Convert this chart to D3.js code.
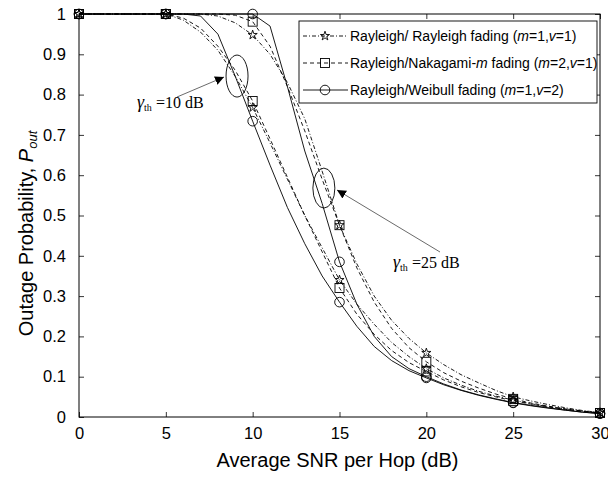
<!DOCTYPE html>
<html>
<head>
<meta charset="utf-8">
<script src="https://cdn.jsdelivr.net/npm/d3@7"></script>
<style>
  body { margin: 0; background: #fff; }
  svg { display: block; }
</style>
</head>
<body>
<script>
// SNR grid of the curves (dB) and the points that carry markers
const snr = [0, 1, 2, 3, 4, 5, 6, 7, 8, 9, 10, 11, 12, 13, 14, 15, 16, 17, 18, 19, 20,
             21, 22, 23, 24, 25, 26, 27, 28, 29, 30];
const markerSnr = [0, 5, 10, 15, 20, 25, 30];
const xTicks = [0, 5, 10, 15, 20, 25, 30];
const yTicks = [0, 0.1, 0.2, 0.3, 0.4, 0.5, 0.6, 0.7, 0.8, 0.9, 1];

// gamma_th = 10 dB
const rayRay10 = [1, 1, 1, 1, 1, 1, 0.985, 0.955, 0.91, 0.845, 0.768, 0.68, 0.59, 0.5, 0.42, 0.34,
                  0.28, 0.23, 0.185, 0.15, 0.12, 0.097, 0.079, 0.064, 0.052, 0.042, 0.033, 0.026, 0.02, 0.015, 0.01];
const rayNak10 = [1, 1, 1, 1, 1, 1, 0.99, 0.965, 0.92, 0.86, 0.784, 0.69, 0.595, 0.5, 0.41, 0.32,
                  0.255, 0.205, 0.165, 0.135, 0.113, 0.092, 0.075, 0.061, 0.05, 0.04, 0.032, 0.025, 0.019, 0.014, 0.01];
const rayWei10 = [1, 1, 1, 1, 1, 1, 1, 0.995, 0.95, 0.845, 0.734, 0.625, 0.52, 0.43, 0.35, 0.285,
                  0.225, 0.175, 0.14, 0.115, 0.097, 0.08, 0.066, 0.054, 0.044, 0.035, 0.028, 0.022, 0.017, 0.012, 0.008];
// gamma_th = 25 dB
const rayRay25 = [1, 1, 1, 1, 1, 1, 1, 1, 0.995, 0.978, 0.948, 0.9, 0.83, 0.74, 0.61, 0.476,
                  0.38, 0.3, 0.24, 0.195, 0.159, 0.13, 0.105, 0.085, 0.066, 0.05, 0.04, 0.031, 0.023, 0.016, 0.011];
const rayNak25 = [1, 1, 1, 1, 1, 1, 1, 1, 1, 0.997, 0.981, 0.92, 0.82, 0.71, 0.59, 0.476,
                  0.37, 0.285, 0.22, 0.172, 0.137, 0.11, 0.089, 0.072, 0.057, 0.045, 0.035, 0.027, 0.02, 0.014, 0.01];
const rayWei25 = [1, 1, 1, 1, 1, 1, 1, 1, 1, 1, 1, 0.97, 0.82, 0.66, 0.53, 0.385,
                  0.28, 0.2, 0.15, 0.12, 0.1, 0.082, 0.067, 0.055, 0.045, 0.036, 0.029, 0.023, 0.017, 0.012, 0.009];

const styles = {
  ray: { dash: '4 2 1 2', marker: 'star' },
  nak: { dash: '4 3', marker: 'square' },
  wei: { dash: null, marker: 'circle' },
};

const curves = [
  { kind: 'ray', values: rayRay10 },
  { kind: 'nak', values: rayNak10 },
  { kind: 'wei', values: rayWei10 },
  { kind: 'ray', values: rayRay25 },
  { kind: 'nak', values: rayNak25 },
  { kind: 'wei', values: rayWei25 },
];

const legendItems = [
  { kind: 'ray', parts: ['Rayleigh/ Rayleigh fading (', ['m'], '=1,', ['v'], '=1)'] },
  { kind: 'nak', parts: ['Rayleigh/Nakagami-', ['m'], ' fading (', ['m'], '=2,', ['v'], '=1)'] },
  { kind: 'wei', parts: ['Rayleigh/Weibull fading (', ['m'], '=1,', ['v'], '=2)'] },
];

const width = 608, height = 478;
const margin = { top: 14, right: 8, bottom: 61, left: 79 };
const innerW = width - margin.left - margin.right;
const innerH = height - margin.top - margin.bottom;

const x = d3.scaleLinear().domain([0, 30]).range([0, innerW]);
const y = d3.scaleLinear().domain([0, 1]).range([innerH, 0]);

const svg = d3.select('body').append('svg')
  .attr('width', width)
  .attr('height', height)
  .attr('font-family', '"Liberation Sans", Arial, Helvetica, sans-serif');

const g = svg.append('g').attr('transform', `translate(${margin.left} ${margin.top})`);

function drawMarker(sel, type) {
  if (type === 'star') {
    sel.append('path')
      .attr('d', d3.symbol(d3.symbolStar, 26)())
      .attr('fill', 'none').attr('stroke', '#000').attr('stroke-width', 0.9);
  } else if (type === 'square') {
    sel.append('rect')
      .attr('x', -4.5).attr('y', -4.5).attr('width', 9).attr('height', 9)
      .attr('fill', 'none').attr('stroke', '#000').attr('stroke-width', 0.9);
  } else {
    sel.append('circle')
      .attr('r', 4.8)
      .attr('fill', 'none').attr('stroke', '#000').attr('stroke-width', 0.9);
  }
}

// axes: ticks inside on all four sides
const tickLen = 5;
const axisBottom = d3.axisBottom(x).tickValues(xTicks).tickSize(-tickLen).tickPadding(10).tickFormat(d3.format('d'));
const axisTop = d3.axisTop(x).tickValues(xTicks).tickSize(-tickLen).tickFormat('');
const axisLeft = d3.axisLeft(y).tickValues(yTicks).tickSize(-tickLen).tickPadding(13).tickFormat(d => d === 0 || d === 1 ? d : d3.format('.1f')(d));
const axisRight = d3.axisRight(y).tickValues(yTicks).tickSize(-tickLen).tickFormat('');

function styleAxis(a) {
  a.select('.domain').remove();
  a.selectAll('line').attr('stroke', '#000').attr('stroke-width', 0.8);
  a.selectAll('text').attr('fill', '#000').attr('font-size', 16.5)
    .attr('font-family', '"Liberation Sans", Arial, Helvetica, sans-serif');
}

g.append('g').attr('transform', `translate(0 ${innerH})`).call(axisBottom).call(styleAxis);
g.append('g').call(axisTop).call(styleAxis);
g.append('g').call(axisLeft).call(styleAxis);
g.append('g').attr('transform', `translate(${innerW} 0)`).call(axisRight).call(styleAxis);

g.append('rect')
  .attr('width', innerW).attr('height', innerH)
  .attr('fill', 'none').attr('stroke', '#000').attr('stroke-width', 1);

// curves
const line = d3.line().x(d => x(d[0])).y(d => y(d[1]));
curves.forEach(c => {
  const st = styles[c.kind];
  const pts = snr.map((s, i) => [s, c.values[i]]);
  g.append('path')
    .attr('d', line(pts))
    .attr('fill', 'none')
    .attr('stroke', '#000')
    .attr('stroke-width', 0.9)
    .attr('stroke-dasharray', st.dash);
  const mk = pts.filter(p => markerSnr.includes(p[0]));
  g.append('g').selectAll('g').data(mk).join('g')
    .attr('transform', d => `translate(${x(d[0])} ${y(d[1])})`)
    .each(function () { drawMarker(d3.select(this), st.marker); });
});

// annotations (ellipses, arrows, labels)
svg.append('defs').append('marker')
  .attr('id', 'arr').attr('viewBox', '0 0 10 10').attr('refX', 10).attr('refY', 5)
  .attr('markerWidth', 9).attr('markerHeight', 9).attr('markerUnits', 'userSpaceOnUse')
  .attr('orient', 'auto')
  .append('path').attr('d', 'M0 0 L10 5 L0 10 Z').attr('fill', '#000');

const notes = [
  { snr: 9.1, p: 0.846, rx: 11, ry: 21, from: [177 - margin.left, 97 - margin.top], to: [224 - margin.left, 77 - margin.top],
    text: [137 - margin.left, 108 - margin.top], label: '10 dB' },
  { snr: 14.1, p: 0.568, rx: 11, ry: 20, from: [440 - margin.left, 252 - margin.top], to: [337 - margin.left, 190 - margin.top],
    text: [393 - margin.left, 268 - margin.top], label: '25 dB' },
];

notes.forEach(n => {
  g.append('ellipse')
    .attr('cx', x(n.snr)).attr('cy', y(n.p)).attr('rx', n.rx).attr('ry', n.ry)
    .attr('fill', 'none').attr('stroke', '#000').attr('stroke-width', 0.9);
  g.append('line')
    .attr('x1', n.from[0]).attr('y1', n.from[1]).attr('x2', n.to[0]).attr('y2', n.to[1])
    .attr('stroke', '#444').attr('stroke-width', 0.8).attr('marker-end', 'url(#arr)');
  const t = g.append('text')
    .attr('x', n.text[0]).attr('y', n.text[1])
    .attr('font-family', '"Liberation Serif", "Times New Roman", serif')
    .attr('font-size', 16).attr('fill', '#000');
  t.append('tspan').attr('font-style', 'italic').attr('font-size', 18).text('γ');
  t.append('tspan').attr('font-size', 10).attr('dy', 3).text('th');
  t.append('tspan').attr('dy', -3).text(' =' + n.label);
});

// legend
const lg = g.append('g').attr('transform', `translate(${299 - margin.left} ${21 - margin.top})`);
lg.append('rect').attr('width', 298).attr('height', 82)
  .attr('fill', '#fff').attr('stroke', '#000').attr('stroke-width', 0.9);
legendItems.forEach((it, i) => {
  const st = styles[it.kind];
  const row = lg.append('g').attr('transform', `translate(0 ${15 + i * 27})`);
  row.append('line').attr('x1', 4).attr('x2', 49)
    .attr('stroke', '#000').attr('stroke-width', 0.9).attr('stroke-dasharray', st.dash);
  const m = row.append('g').attr('transform', 'translate(26 0)');
  drawMarker(m, st.marker);
  const t = row.append('text').attr('x', 51).attr('y', 5).attr('font-size', 14).attr('fill', '#000');
  it.parts.forEach(p => {
    if (Array.isArray(p)) t.append('tspan').attr('font-style', 'italic').text(p[0]);
    else t.append('tspan').text(p);
  });
});

// axis titles
svg.append('text')
  .attr('x', margin.left + innerW / 2 - 2).attr('y', 467)
  .attr('text-anchor', 'middle').attr('font-size', 20).attr('fill', '#000')
  .text('Average SNR per Hop (dB)');

const yt = svg.append('text')
  .attr('transform', `translate(33 ${margin.top + innerH / 2 + 18}) rotate(-90)`)
  .attr('text-anchor', 'middle').attr('font-size', 20).attr('fill', '#000');
yt.append('tspan').text('Outage Probability, ');
yt.append('tspan').attr('font-style', 'italic').text('P');
yt.append('tspan').attr('font-style', 'italic').attr('font-size', 13).attr('dy', 4).text('out');
</script>
</body>
</html>
